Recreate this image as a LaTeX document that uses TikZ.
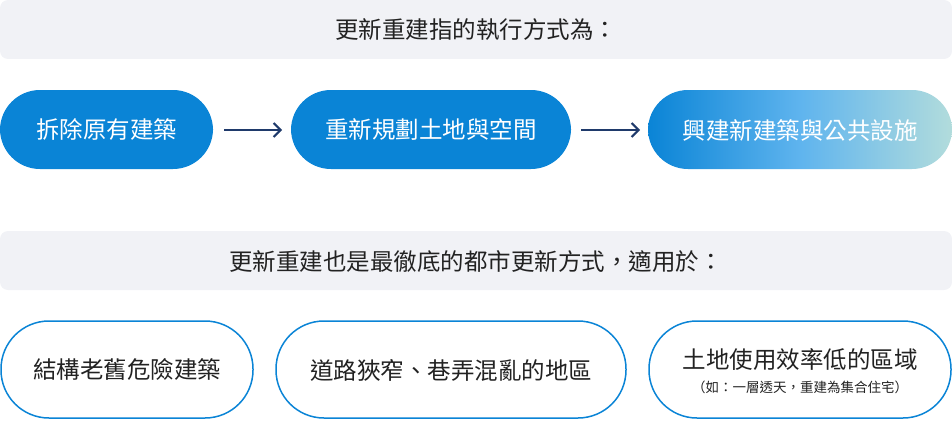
\documentclass[tikz,border=0pt]{standalone}
\usepackage{fontspec}
\setmainfont{Noto Sans CJK TC}
\usetikzlibrary{arrows.meta}
\definecolor{bann}{HTML}{F1F2F6}
\definecolor{pblue}{HTML}{0A84D6}
\definecolor{gmid}{HTML}{5FB4EE}
\definecolor{gend}{HTML}{B2DCDC}
\definecolor{navy}{HTML}{1F3A6B}
\definecolor{txt}{HTML}{222222}
\tikzset{
 banner/.style={fill=bann,draw=none,rounded corners=8pt},
 btxt/.style={font=\fontsize{23.5}{27}\selectfont,text=txt},
 fpill/.style={fill=pblue,draw=none,rounded corners=40pt},
 wtxt/.style={font=\fontsize{23.5}{27}\selectfont,text=white},
 opill/.style={fill=white,draw=pblue,line width=1.5pt,rounded corners=48pt},
 otxt/.style={font=\fontsize{23.5}{27}\selectfont,text=txt},
 arr/.style={draw=navy,line width=2pt,-{Straight Barb[length=7pt,width=14pt]}}
}
\begin{document}
\begin{tikzpicture}[x=1pt,y=-1pt]
\useasboundingbox (0,0) rectangle (952,420);
\fill[banner] (0,0) rectangle (952,59);
\node[btxt] (t1) at (476,30) {更新重建指的執行方式為：};
\fill[fpill] (0,90) rectangle (213,169);
\node[wtxt] (p1) at (106.5,130) {拆除原有建築};
\fill[fpill] (291,90) rectangle (571,169);
\node[wtxt] (p2) at (431,130) {重新規劃土地與空間};
\shade[rounded corners=40pt,left color=pblue,right color=gend,middle color=gmid] (648,90) rectangle (952,169);
\node[wtxt] (p3) at (800,130) {興建新建築與公共設施};
\coordinate (a1s) at (224,130); \coordinate (a1e) at (282,130);
\coordinate (a2s) at (581,130); \coordinate (a2e) at (640,130);
\draw[arr] (a1s) -- (a1e);
\draw[arr] (a2s) -- (a2e);
\fill[banner] (0,231) rectangle (952,290);
\node[btxt] (t2) at (476,262) {更新重建也是最徹底的都市更新方式，適用於：};
\draw[opill] (1,321) rectangle (253,418);
\node[otxt] (b1) at (127,370) {結構老舊危險建築};
\draw[opill] (276,321) rectangle (626,418);
\node[otxt] (b2) at (451,370) {道路狹窄、巷弄混亂的地區};
\draw[opill] (649,321) rectangle (951,418);
\node[otxt] (b3) at (800,360) {土地使用效率低的區域};
\node[font=\fontsize{13.5}{15}\selectfont,text=txt] (b3s) at (800,387) {（如：一層透天，重建為集合住宅）};
\end{tikzpicture}
\end{document}
